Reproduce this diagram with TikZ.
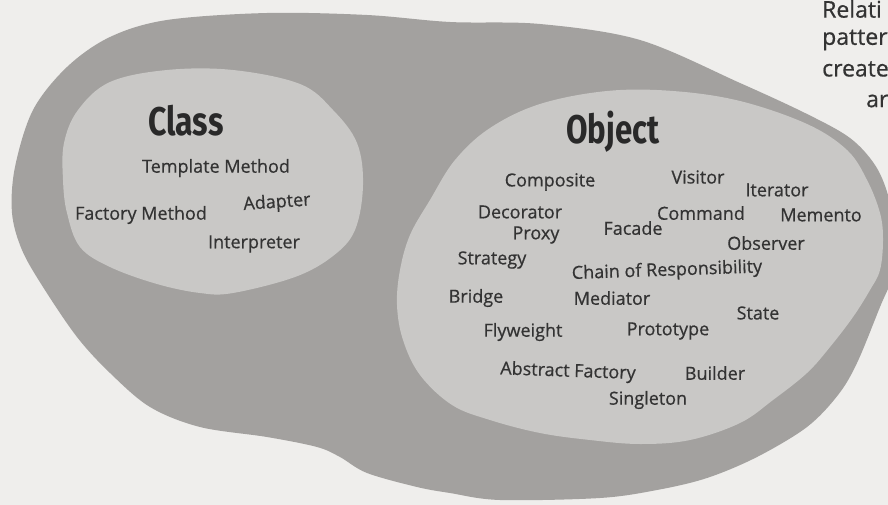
\documentclass[tikz,border=0pt]{standalone}
\usepackage{fontspec}
\setmainfont{Open Sans}
\newfontfamily\labfont[FakeBold=0.6]{Open Sans}
\newfontfamily\titlefont{Fira Sans}
\definecolor{bgcol}{HTML}{EFEEEC}
\definecolor{outercol}{HTML}{A3A19F}
\definecolor{innercol}{HTML}{C9C8C6}
\definecolor{inkcol}{HTML}{333333}
\tikzset{
  lab/.style={inner sep=0pt, text=inkcol, font=\labfont\fontsize{18}{20}\selectfont},
  titlelab/.style={inner sep=0pt, text=inkcol!80!black, font=\titlefont\bfseries\fontsize{40}{44}\selectfont},
  sidelab/.style={inner sep=0pt, anchor=west, text=inkcol, font=\labfont\fontsize{23}{26}\selectfont},
  outerblob/.style={fill=outercol},
  innerblob/.style={fill=innercol}
}
\begin{document}
\begin{tikzpicture}[x=1pt,y=-1pt]
\fill[bgcol] (0,0) rectangle (888,505);
\useasboundingbox (0,0) rectangle (888,505);

% outer region
\fill[outerblob] plot[smooth cycle, tension=0.55] coordinates {
 (12,213) (15,167) (33,110) (67,67) (110,37) (167,20) (267,13) (367,15)
 (450,22) (540,24) (640,40) (740,83) (807,114) (850,138) (875,165)
 (888,195) (896,235) (895,270) (880,307) (857,363) (838,395) (807,427)
 (757,457) (707,478) (657,490) (600,498) (500,500) (450,493) (417,487)
 (367,473) (340,457) (317,447) (267,437) (200,427) (150,407) (110,373)
 (77,337) (43,287) (22,250)};

% class region
\fill[innerblob] plot[smooth cycle, tension=0.6] coordinates {
 (63,180) (64,143) (78,110) (110,82) (167,70) (233,70) (300,84) (333,110)
 (357,143) (363,185) (355,230) (333,256) (295,277) (233,293) (200,293)
 (157,284) (110,267) (80,247) (67,213)};

% object region
\fill[innerblob] plot[smooth cycle, tension=0.6] coordinates {
 (400,270) (410,235) (430,200) (455,160) (490,128) (540,104) (607,91)
 (673,91) (740,101) (807,124) (847,150) (867,180) (880,213) (883,240)
 (880,270) (870,290) (853,317) (830,347) (807,373) (773,400) (740,423)
 (690,440) (640,444) (590,440) (540,433) (490,420) (452,405) (420,375)
 (403,340) (397,305)};

% titles
\node[titlelab] (class) at (186,121) {\scalebox{0.8}[1]{Class}};
\node[titlelab] (object) at (613,132) {\scalebox{0.78}[1]{Object}};

% class patterns
\node[lab] (tm) at (216,168) {Template Method};
\node[lab] (fm) at (141,215) {Factory Method};
\node[lab, rotate=4] (ad) at (277,203) {Adapter};
\node[lab] (ip) at (254,244) {Interpreter};

% object patterns
\node[lab] (cp) at (550,182) {Composite};
\node[lab] (vi) at (698,177) {Visitor};
\node[lab] (it) at (777,190) {Iterator};
\node[lab] (de) at (520,212) {Decorator};
\node[lab] (cm) at (701,213) {Command};
\node[lab] (me) at (821,215) {Memento};
\node[lab] (fa) at (633,228) {Facade};
\node[lab] (pr) at (536,235) {Proxy};
\node[lab] (ob) at (766,243) {Observer};
\node[lab] (st) at (492,260) {Strategy};
\node[lab, rotate=2] (ch) at (667,271) {Chain of Responsibility};
\node[lab] (br) at (476,298) {Bridge};
\node[lab] (md) at (612,298) {Mediator};
\node[lab] (sa) at (758,313) {State};
\node[lab] (fl) at (523,332) {Flyweight};
\node[lab] (pt) at (668,331) {Prototype};
\node[lab, rotate=-2] (af) at (568,372) {Abstract Factory};
\node[lab] (bu) at (715,373) {Builder};
\node[lab] (si) at (648,400) {Singleton};

% side text
\node[sidelab] (s1) at (822,9) {Relati};
\node[sidelab] (s2) at (822,40) {patter};
\node[sidelab] (s3) at (822,69) {create};
\node[sidelab] (s4) at (866,101) {ar};
\end{tikzpicture}
\end{document}
